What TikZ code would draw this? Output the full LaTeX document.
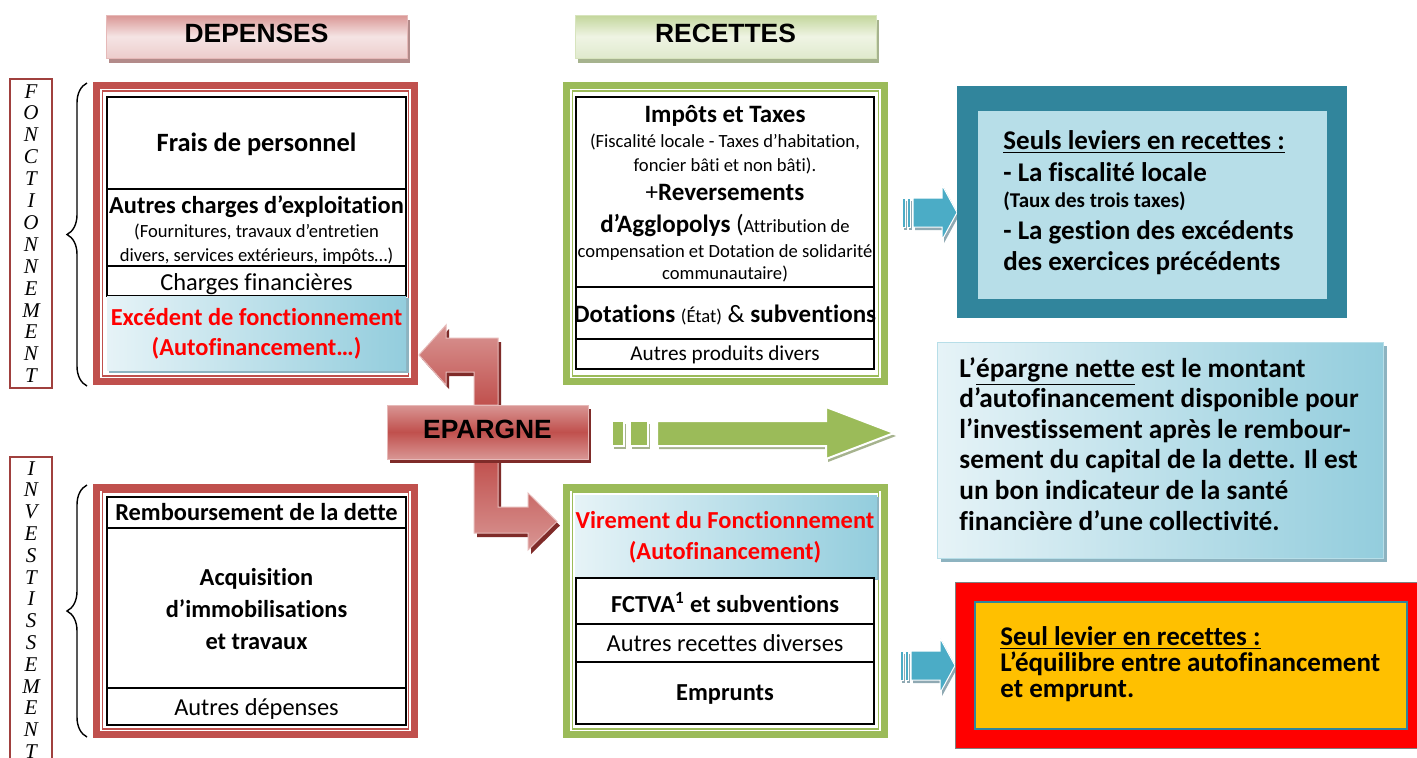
\documentclass[tikz,border=0pt]{standalone}
\usepackage{fontspec}
\setmainfont{Carlito}[Ligatures=NoCommon]
\newfontfamily\arialfont{Liberation Sans}
\newfontfamily\cambriafont{Liberation Serif}
\usetikzlibrary{decorations.pathreplacing}
\definecolor{framered}{HTML}{C0504D}
\definecolor{framegreen}{HTML}{9BBB59}
\definecolor{darkred}{HTML}{7F2B29}
\definecolor{labelred}{HTML}{A0403E}
\definecolor{pinkdark}{HTML}{D99694}
\definecolor{pinklight}{HTML}{F5E4E4}
\definecolor{pinkpale}{HTML}{EDCDCC}
\definecolor{pinkedge}{HTML}{E6B9B8}
\definecolor{pinkshadow}{HTML}{B38B8A}
\definecolor{greendark}{HTML}{C3D69B}
\definecolor{greenlight}{HTML}{EFF4E4}
\definecolor{greenpale}{HTML}{E0EACD}
\definecolor{greenedge}{HTML}{D7E4BD}
\definecolor{greenshadow}{HTML}{A6B38E}
\definecolor{skylight}{HTML}{E6F3F7}
\definecolor{skydark}{HTML}{93CDDD}
\definecolor{skyshadow}{HTML}{8DB3C0}
\definecolor{levierteal}{HTML}{31859C}
\definecolor{levierpale}{HTML}{B7DEE8}
\definecolor{arrowblue}{HTML}{4BACC6}
\definecolor{arrowgray}{HTML}{8FA9B3}
\definecolor{levierorange}{HTML}{FFC000}
\definecolor{levierred}{HTML}{FF0000}

\newcommand\sizehead{\fontsize{13.2}{15}\selectfont}
\newcommand\sizemain{\fontsize{12.2}{14}\selectfont}
\newcommand\sizesmall{\fontsize{9.3}{11}\selectfont}
\newcommand\sizeside{\fontsize{13.5}{15}\selectfont}
\newcommand\sizetaux{\fontsize{10.5}{12}\selectfont}

\tikzset{
  outerframe/.style={line width=3.5pt},
  innerframe/.style={line width=0.6pt},
  cell/.style={draw=black, line width=1pt, fill=white},
  skybox/.style={left color=skylight, right color=skydark},
  txt/.style={anchor=base, inner sep=0pt, font=\sizemain},
  ltxt/.style={anchor=base west, inner sep=0pt, font=\bfseries\sizeside},
  vletter/.style={anchor=base, inner sep=0pt, font=\cambriafont\itshape\fontsize{10.5}{12}\selectfont},
  labelbox/.style={draw=labelred, line width=0.6pt},
  curly/.style={decorate, decoration={brace, amplitude=10pt}, line width=0.7pt},
  redshadow/.style={fill=darkred, xshift=1.5pt, yshift=-2pt},
  redupper/.style={top color=pinkdark, bottom color=framered, draw=pinkedge, line width=0.5pt},
  redlower/.style={top color=framered, bottom color=pinkdark, draw=pinkedge, line width=0.5pt},
  greenshade/.style={fill=greenshadow, xshift=1pt, yshift=-1.5pt},
  greenarrow/.style={fill=framegreen, draw=white, line width=1pt},
  blueshade/.style={fill=arrowgray, xshift=1pt, yshift=-1.5pt},
  bluearrow/.style={fill=arrowblue, draw=white, line width=0.5pt}
}

\begin{document}
\begin{tikzpicture}[x=0.5pt, y=-0.5pt]
\useasboundingbox (0,0) rectangle (1417,757);
\fill[white] (0,0) rectangle (1417,757);

% banners
\fill[pinkshadow] (109,20) rectangle (410,63);
\draw[pinkedge, top color=pinkdark, bottom color=pinkpale, middle color=pinklight] (106,15) rectangle (407,58);
\node[txt, font=\arialfont\bfseries\sizehead] (depenses) at (256.5,42) {DEPENSES};
\fill[greenshadow] (578,20) rectangle (879,63);
\draw[greenedge, top color=greendark, bottom color=greenpale, middle color=greenlight] (575,15) rectangle (876,58);
\node[txt, font=\arialfont\bfseries\sizehead] (recettes) at (725.5,42) {RECETTES};

% vertical labels and braces
\draw[labelbox] (10,79) rectangle (52,388);
\foreach \l [count=\i] in {F,O,N,C,T,I,O,N,N,E,M,E,N,T}
  \node[vletter] (fonct-\i) at (31,{98+(\i-1)*21.9}) {\l};
\draw[labelbox] (10,457) rectangle (52,775);
\foreach \l [count=\i] in {I,N,V,E,S,T,I,S,S,E,M,E,N,T}
  \node[vletter] (invest-\i) at (31,{475+(\i-1)*21.8}) {\l};
\draw[curly] (87,386) -- (87,83);
\draw[curly] (87,737) -- (87,485);

% depenses de fonctionnement
\draw[outerframe, framered] (96.5,85.5) rectangle (414.5,381.5);
\draw[innerframe, framered] (102.5,91) rectangle (408.5,376);
\draw[cell] (107,97) rectangle (406,189);
\draw[cell] (107,189) rectangle (406,266);
\draw[cell] (107,266) rectangle (406,296);
\fill[skyshadow] (109,298) rectangle (409,373);
\shade[skybox] (107,296) rectangle (406,370);
\node[txt, font=\bfseries\sizehead] (frais) at (256.5,151) {Frais de personnel};
\node[txt, font=\bfseries\sizemain] (charges) at (256.5,213) {Autres charges d’exploitation};
\node[txt, font=\sizesmall] (charges-2) at (256.5,237.5) {(Fournitures, travaux d’entretien};
\node[txt, font=\sizesmall] (charges-3) at (256.5,261.5) {divers, services extérieurs, impôts…)};
\node[txt] (financieres) at (256.5,290) {Charges financières};
\node[txt, font=\bfseries\sizemain, text=levierred] (excedent) at (256.5,325) {Excédent de fonctionnement};
\node[txt, font=\bfseries\sizemain, text=levierred] (excedent-2) at (256.5,355) {(Autofinancement…)};

% depenses d'investissement
\draw[outerframe, framered] (96.5,487.5) rectangle (414.5,734.5);
\draw[innerframe, framered] (102.5,492) rectangle (408.5,729);
\draw[cell] (107,497) rectangle (406,528);
\draw[cell] (107,528) rectangle (406,688);
\draw[cell] (107,688) rectangle (406,725);
\node[txt, font=\bfseries\sizemain] (dette) at (256.5,520) {Remboursement de la dette};
\node[txt, font=\bfseries\sizemain] (acquis) at (256.5,585) {Acquisition};
\node[txt, font=\bfseries\sizemain] (acquis-2) at (256.5,617) {d’immobilisations};
\node[txt, font=\bfseries\sizemain] (acquis-3) at (256.5,649) {et travaux};
\node[txt] (autresdep) at (256.5,715) {Autres dépenses};

% recettes de fonctionnement
\draw[outerframe, framegreen] (566.5,85.5) rectangle (884.5,381.5);
\draw[innerframe, framegreen] (572.5,91) rectangle (878.5,376);
\draw[cell] (576,97) rectangle (874,287);
\draw[cell] (576,287) rectangle (874,339);
\draw[cell] (576,339) rectangle (874,369);
\node[txt, font=\bfseries\fontsize{12.5}{14}\selectfont] (impots) at (725,122) {Impôts et Taxes};
\node[txt, font=\sizesmall] (impots-2) at (725,147) {(Fiscalité locale - Taxes d’habitation,};
\node[txt, font=\sizesmall] (impots-3) at (725,171) {foncier bâti et non bâti).};
\node[txt, font=\fontsize{12.5}{14}\selectfont] (impots-4) at (725,200) {+\textbf{Reversements}};
\node[txt, font=\fontsize{12.5}{14}\selectfont] (impots-5) at (725,232) {\textbf{d’Agglopolys} ({\sizesmall Attribution de}};
\node[txt, font=\sizesmall] (impots-6) at (725,257) {compensation et Dotation de solidarité};
\node[txt, font=\sizesmall] (impots-7) at (725,279) {communautaire)};
\node[txt, font=\fontsize{12.5}{14}\selectfont] (dotations) at (725,322) {\textbf{Dotations} {\sizesmall (État)} \& \textbf{subventions}};
\node[txt, font=\fontsize{10.6}{12}\selectfont] (produits) at (725,360) {Autres produits divers};

% recettes d'investissement
\draw[outerframe, framegreen] (566.5,487.5) rectangle (884.5,734.5);
\draw[innerframe, framegreen] (572.5,492) rectangle (878.5,729);
\fill[skyshadow] (577,497) rectangle (879,580);
\shade[skybox] (575,495) rectangle (877,578);
\draw[cell] (576,578) rectangle (874,624);
\draw[cell] (576,624) rectangle (874,662);
\draw[cell] (576,662) rectangle (874,724);
\node[txt, font=\bfseries\sizemain, text=levierred] (virement) at (725,528) {Virement du Fonctionnement};
\node[txt, font=\bfseries\sizemain, text=levierred] (virement-2) at (725,559) {(Autofinancement)};
\node[txt, font=\bfseries\sizemain] (fctva) at (725,612) {FCTVA\textsuperscript{1} et subventions};
\node[txt] (diverses) at (725,651) {Autres recettes diverses};
\node[txt, font=\bfseries\sizemain] (emprunts) at (725,700) {Emprunts};

% epargne
\foreach \st in {redshadow, redupper}
  \path[\st] (498,405) -- (498,338) -- (446,338) -- (446,325) -- (419,355)
    -- (446,385) -- (446,372) -- (474,372) -- (474,405) -- cycle;
\foreach \st in {redshadow, redlower}
  \path[\st] (474,459) -- (474,533) -- (528,533) -- (528,550) -- (557,521.5)
    -- (528,493) -- (528,507) -- (498,507) -- (498,459) -- cycle;
\fill[darkred] (390,409) rectangle (591,463);
\draw[pinkedge, top color=pinkdark, bottom color=pinkdark, middle color=framered] (387,405) rectangle (588,459);
\node[txt, font=\arialfont\bfseries\sizehead] (epargne) at (487.5,438) {EPARGNE};

\foreach \st in {greenshade, greenarrow} {
  \path[\st] (612,421) rectangle (624,446);
  \path[\st] (630,421) rectangle (648,446);
  \path[\st] (657,421) -- (826,421) -- (826,407) -- (894,433) -- (826,459)
    -- (826,446) -- (657,446) -- cycle;
}

% blue arrows
\foreach \dx/\dy in {0/0, -2/453}
  \foreach \st in {blueshade, bluearrow} {
    \path[\st, shift={(\dx,\dy)}] (902,198) rectangle (905,227);
    \path[\st, shift={(\dx,\dy)}] (907,198) rectangle (910,227);
    \path[\st, shift={(\dx,\dy)}] (913,198) -- (942,198) -- (942,185) -- (957,212.5)
      -- (942,240) -- (942,227) -- (913,227) -- cycle;
  }

% leviers fiscalite
\fill[levierteal] (957,86) rectangle (1347,318);
\fill[levierpale] (978,111) rectangle (1327,299);
\node[ltxt] (leviers) at (1003,149) {\underline{Seuls leviers en recettes :}};
\node[ltxt] (leviers-2) at (1003,181) {- La fiscalité locale};
\node[ltxt, font=\bfseries\sizetaux] (leviers-3) at (1003,207) {(Taux des trois taxes)};
\node[ltxt] (leviers-4) at (1003,239) {- La gestion des excédents};
\node[ltxt] (leviers-5) at (1003,270) {des exercices précédents};

% epargne nette
\fill[skyshadow] (941,346) rectangle (1387,562);
\draw[levierpale, skybox] (937,342) rectangle (1383,558);
\foreach \rowtext [count=\i] in {{L’\underline{épargne nette} est le montant},
    {d’autofinancement disponible pour}, {l’investissement après le rembour-},
    {sement du capital de la dette. Il est}, {un bon indicateur de la santé},
    {financière d’une collectivité.}}
  \node[ltxt, font=\bfseries\fontsize{13.65}{15}\selectfont] (nette-\i) at (959,{377+(\i-1)*30.6}) {\rowtext};

% levier emprunt
\filldraw[fill=levierred, draw=gray, line width=0.5pt] (955,582) rectangle (1417,748);
\filldraw[fill=levierorange, draw=levierteal, line width=1pt] (975,602) rectangle (1407,729);
\node[ltxt] (levier) at (1000,645) {\underline{Seul levier en recettes :}};
\node[ltxt] (levier-2) at (1000,671) {L’équilibre entre autofinancement};
\node[ltxt] (levier-3) at (1000,697) {et emprunt.};
\end{tikzpicture}
\end{document}
